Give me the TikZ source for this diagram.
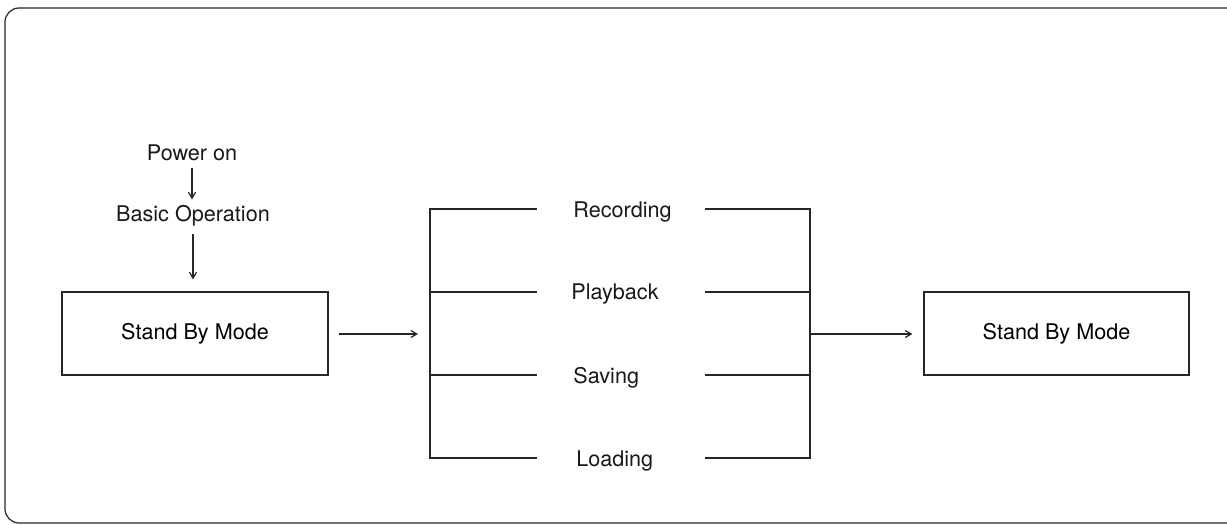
\documentclass[tikz,border=0pt]{standalone}
\usepackage{fontspec}
\setmainfont{TeX Gyre Heros}
\usetikzlibrary{arrows.meta}
\tikzset{
  ln/.style={draw=black!85, line width=0.6pt},
  arr/.style={ln, -{Straight Barb[length=3pt,width=3.5pt]}},
  lbl/.style={font=\fontsize{10.8pt}{13pt}\selectfont, inner sep=0pt, text=black!90},
  modebox/.style={ln, minimum width=133pt, minimum height=41.5pt, inner sep=0pt, font=\fontsize{10.8pt}{13pt}\selectfont}
}
\begin{document}
\begin{tikzpicture}[x=0.5pt,y=-0.5pt]
\useasboundingbox (0,0) rectangle (1227,525);
\fill[white] (0,0) rectangle (1227,525);
% frame
\draw[ln, rounded corners=7pt] (1227,8) -- (5,8) -- (5,523) -- (1227,523);
% left column
\node[lbl, anchor=base] (power) at (192,160) {Power on};
\node[lbl, anchor=base] (basic) at (193,221) {Basic Operation};
\node[modebox] (sb1) at (195,333.5) {Stand By Mode};
\draw[arr, shorten <=3.5pt, shorten >=2.5pt] (power.south) -- (power.south |- basic.north);
\draw[arr, shorten <=4pt, shorten >=6pt] (basic.south) -- (basic.south |- sb1.north);
% bracket
\coordinate (bl1) at (430,209); \coordinate (bl4) at (430,458);
\coordinate (bin) at (430,334);
\coordinate (br1) at (810,209); \coordinate (br4) at (810,458);
\coordinate (bout) at (810,334);
\node[lbl, anchor=base west] (rec) at (573,217) {Recording};
\node[lbl, anchor=base west] (play) at (571,299) {Playback};
\node[lbl, anchor=base west] (sav) at (573,383) {Saving};
\node[lbl, anchor=base west] (load) at (576,466) {Loading};
\draw[ln] (537,209) -- (bl1) -- (bl4) -- (537,458);
\draw[ln] (430,292) -- (537,292);
\draw[ln] (430,375) -- (537,375);
\draw[ln] (705,209) -- (br1) -- (br4) -- (705,458);
\draw[ln] (705,292) -- (810,292);
\draw[ln] (705,375) -- (810,375);
% right box
\node[modebox, minimum width=132.5pt] (sb2) at (1056.5,333.5) {Stand By Mode};
\draw[arr, shorten <=5pt, shorten >=6pt] (sb1.east |- bin) -- (bin);
\draw[arr, shorten >=5.5pt] (bout) -- (sb2.west |- bout);
\end{tikzpicture}
\end{document}
